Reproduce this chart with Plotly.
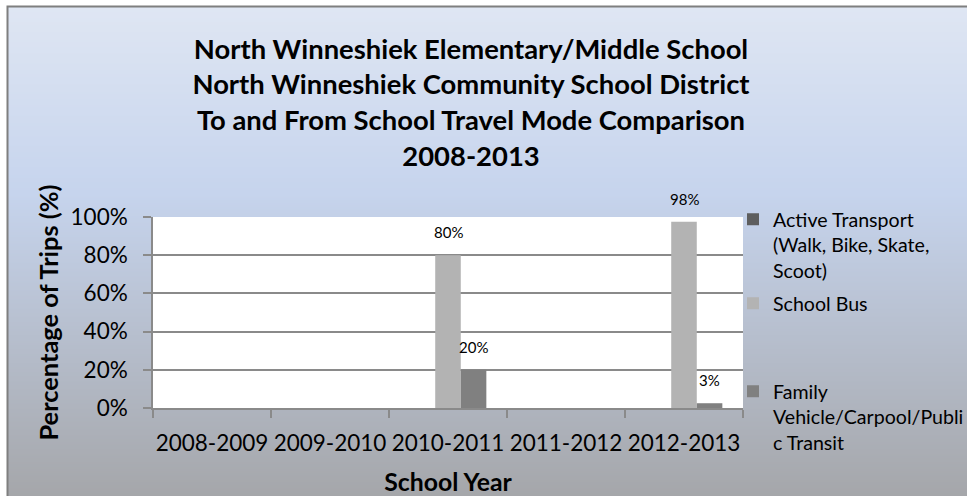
import zlib
import struct
import base64
import plotly.graph_objects as go

# ---------------- data ----------------
years = ["2008-2009", "2009-2010", "2010-2011", "2011-2012", "2012-2013"]
active_transport = [None, None, 0, None, 0]
school_bus = [None, None, 0.80, None, 0.975]
family_vehicle = [None, None, 0.20, None, 0.025]
series_names = [
    "Active Transport<br>(Walk, Bike, Skate,<br>Scoot)",
    "School Bus",
    "Family<br>Vehicle/Carpool/Publi<br>c Transit",
]
y_tick_values = [0, 0.2, 0.4, 0.6, 0.8, 1.0]
y_tick_labels = ["0%", "20%", "40%", "60%", "80%", "100%"]
title_lines = [
    "North Winneshiek Elementary/Middle School",
    "North Winneshiek Community School District",
    "To and From School Travel Mode Comparison",
    "2008-2013",
]

# ---------------- layout constants ----------------
W, H = 967, 496
ML, MR, MT, MB = 153, 224, 217, 88
PW, PH = W - ML - MR, H - MT - MB
BARGAP = 0.35
FONT = "Lato"
GRID = "#8a8a8a"
colors = ["#5e5e5e", "#b3b3b3", "#808080"]


def px(x):
    return (x - ML) / PW


def py(y):
    return (H - MB - y) / PH


# ---------------- gradient background (generated PNG) ----------------
stops = [(6, (223, 230, 243)), (190, (198, 212, 237)), (496, (164, 165, 168))]


def grad_color(y):
    for (y0, c0), (y1, c1) in zip(stops[:-1], stops[1:]):
        if y <= y1:
            t = (y - y0) / (y1 - y0)
            return tuple(int(round(a + (b - a) * t)) for a, b in zip(c0, c1))
    return stops[-1][1]


def png_uri(rows, width=4):
    raw = b"".join(b"\x00" + bytes(c) * width for c in rows)

    def chunk(tag, data):
        body = tag + data
        return struct.pack(">I", len(data)) + body + struct.pack(">I", zlib.crc32(body) & 0xFFFFFFFF)

    ihdr = struct.pack(">IIBBBBB", width, len(rows), 8, 2, 0, 0, 0)
    png = b"\x89PNG\r\n\x1a\n" + chunk(b"IHDR", ihdr) + chunk(b"IDAT", zlib.compress(raw)) + chunk(b"IEND", b"")
    return "data:image/png;base64," + base64.b64encode(png).decode()


rows = [grad_color(y) for y in range(6, H + 1)]
bg_uri = png_uri(rows)

# ---------------- figure ----------------
fig = go.Figure()
legends = ["legend", "legend2", "legend3"]
all_series = [active_transport, school_bus, family_vehicle]
for i, (name, vals) in enumerate(zip(series_names, all_series)):
    fig.add_trace(go.Bar(
        x=years, y=vals, name=name,
        marker=dict(color=colors[i], line=dict(width=0)),
        legend=legends[i], hoverinfo="skip", showlegend=True,
    ))

# data labels above bars
slot_px = PW / len(years) * (1 - BARGAP) / len(all_series)
annotations = []
for i, vals in enumerate(all_series):
    for cat, v in zip(years, vals):
        if not v:
            continue
        annotations.append(dict(
            x=cat, y=v, xref="x", yref="y",
            text=f"{int(v * 100 + 0.5 + 1e-9)}%",
            showarrow=False, yanchor="bottom", xanchor="center",
            xshift=(i - (len(all_series) - 1) / 2) * slot_px, yshift=12,
            font=dict(family=FONT, size=15, color="black"),
        ))

shapes = [
    # white plot area
    dict(type="rect", xref="paper", yref="paper", x0=0, x1=1, y0=0, y1=1,
         fillcolor="white", line=dict(width=0), layer="below"),
    # chart border
    dict(type="rect", xref="paper", yref="paper",
         x0=px(7.5), x1=px(W + 20), y0=py(H + 20), y1=py(6.5),
         fillcolor="rgba(0,0,0,0)", line=dict(color="#7f7f7f", width=2), layer="above"),
]

legend_common = dict(x=px(733), xanchor="left", yanchor="top", valign="top",
                     bgcolor="rgba(0,0,0,0)", font=dict(family=FONT, size=19.6, color="black"))

fig.update_layout(
    width=W, height=H, autosize=False,
    margin=dict(l=ML, r=MR, t=MT, b=MB, autoexpand=False),
    paper_bgcolor="white", plot_bgcolor="white",
    barmode="group", bargap=BARGAP, bargroupgap=0,
    font=dict(family=FONT, color="black"),
    title=dict(
        text="<br>".join(title_lines),
        x=471 / W, xref="container", xanchor="center",
        y=1 - 58.8 / H, yref="container", yanchor="middle",
        font=dict(family=FONT, size=27.4, color="black", weight="bold"),
        automargin=False,
    ),
    images=[dict(source=bg_uri, xref="paper", yref="paper",
                 x=px(7), y=py(6), sizex=(W + 10 - 7) / PW, sizey=(H + 10 - 6) / PH,
                 xanchor="left", yanchor="top", sizing="stretch", layer="below")],
    shapes=shapes,
    annotations=annotations,
    xaxis=dict(
        type="category", categoryorder="array", categoryarray=years,
        tickson="boundaries", ticks="outside", ticklen=8, tickwidth=1.5, tickcolor=GRID,
        showline=True, linecolor=GRID, linewidth=1.5, showgrid=False, zeroline=False,
        tickangle=0, automargin=False,
        tickfont=dict(family=FONT, size=22.5, color="black"), ticklabelstandoff=14,
        title=dict(text="School Year", font=dict(family=FONT, size=24.8, color="black", weight="bold"), standoff=22),
        fixedrange=True,
    ),
    yaxis=dict(
        range=[0, 1], tickvals=y_tick_values, ticktext=y_tick_labels,
        showgrid=True, gridcolor=GRID, gridwidth=1.5,
        ticks="outside", ticklen=8, tickwidth=1.5, tickcolor=GRID,
        showline=True, linecolor=GRID, linewidth=1.5, zeroline=False, automargin=False,
        tickfont=dict(family=FONT, size=22.5, color="black"), ticklabelstandoff=11,
        title=dict(text="Percentage of Trips (%)", font=dict(family=FONT, size=25.4, color="black", weight="bold"), standoff=5),
        fixedrange=True,
    ),
    legend=dict(legend_common, y=py(200)),
    legend2=dict(legend_common, y=py(284)),
    legend3=dict(legend_common, y=py(372)),
)

fig.write_html("out.html")
